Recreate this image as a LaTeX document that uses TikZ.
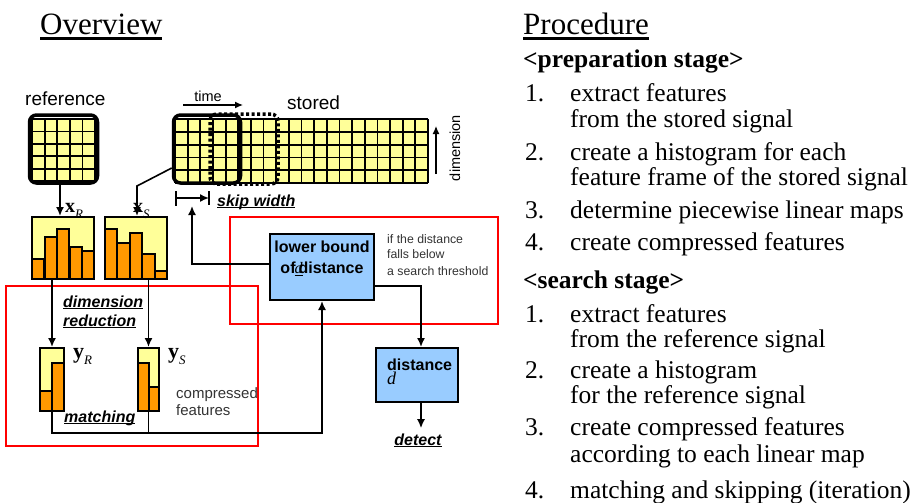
\documentclass[tikz,border=0pt]{standalone}
\usepackage{fontspec}
\setmainfont{Liberation Serif}
\setsansfont{Liberation Sans}
\usetikzlibrary{arrows.meta,positioning,calc}

\definecolor{cellyellow}{HTML}{FFFF99}
\definecolor{barorange}{HTML}{FF9900}
\definecolor{boxblue}{HTML}{99CCFF}
\definecolor{framered}{HTML}{FF0000}
\definecolor{notegray}{HTML}{333333}

% underline with a heavier rule
\newcommand{\thickul}[1]{\setbox0\hbox{#1}\rlap{\rule[-0.15em]{\wd0}{0.075em}}\box0}
% bold vector with italic index
\newcommand{\featvec}[2]{\textbf{#1}\raisebox{-0.3em}{\fontsize{13}{13}\selectfont\itshape #2}}

\begin{document}
\begin{tikzpicture}[x=1pt,y=-1pt,
  gridline/.style={line width=1.8pt},
  win/.style={draw, line width=3.5pt, rounded corners=7pt, inner sep=0pt},
  histbox/.style={draw, fill=cellyellow, line width=2pt, inner sep=0pt},
  bar/.style={draw, fill=barorange, line width=2pt},
  bluebox/.style={draw, fill=boxblue, line width=2pt, inner sep=0pt},
  link/.style={line width=1.6pt},
  flow/.style={link, -{Latex[length=9pt,width=8pt]}},
  redframe/.style={draw=framered, line width=1.8pt},
  title/.style={inner sep=0pt, anchor=base west, font=\fontsize{31}{36}\selectfont},
  stagehead/.style={inner sep=0pt, anchor=base west, font=\bfseries\fontsize{25.5}{30}\selectfont},
  procnum/.style={inner sep=0pt, anchor=base west, font=\fontsize{25.5}{30}\selectfont},
  proctext/.style={procnum},
  sanslabel/.style={inner sep=0pt, anchor=base west, font=\sffamily\fontsize{19}{23}\selectfont},
  smalllabel/.style={inner sep=0pt, font=\sffamily\fontsize{14.5}{17}\selectfont},
  tag/.style={inner sep=0pt, anchor=base west, font=\sffamily\bfseries\itshape\fontsize{16}{19}\selectfont},
  vecl/.style={inner sep=0pt, anchor=base west, font=\fontsize{20}{24}\selectfont},
  note/.style={inner sep=0pt, anchor=base west, text=notegray, font=\sffamily\fontsize{12.3}{15}\selectfont},
  cfnote/.style={note, font=\sffamily\fontsize{15}{18}\selectfont},
  boxtext/.style={inner sep=0pt, font=\sffamily\bfseries\fontsize{16}{21}\selectfont}]

\useasboundingbox (0,0) rectangle (916,503);

% titles
\node[title] (ovtitle) at (40,35) {\thickul{Overview}};
\node[title] (prtitle) at (523,35) {\thickul{Procedure}};

% procedure list
\node[stagehead] (prepstage) at (523,68) {<preparation stage>};
\node[procnum] (p1) at (525,102) {1.};
\node[proctext] (p1a) at (570,102) {extract features};
\node[proctext] (p1b) at (570,128) {from the stored signal};
\node[procnum] (p2) at (525,160) {2.};
\node[proctext] (p2a) at (570,160) {create a histogram for each};
\node[proctext] (p2b) at (570,185) {feature frame of the stored signal};
\node[procnum] (p3) at (525,218) {3.};
\node[proctext] (p3a) at (570,218) {determine piecewise linear maps};
\node[procnum] (p4) at (525,250) {4.};
\node[proctext] (p4a) at (570,250) {create compressed features};
\node[stagehead] (srchstage) at (523,288) {<search stage>};
\node[procnum] (s1) at (525,322) {1.};
\node[proctext] (s1a) at (570,322) {extract features};
\node[proctext] (s1b) at (570,347) {from the reference signal};
\node[procnum] (s2) at (525,378) {2.};
\node[proctext] (s2a) at (570,378) {create a histogram};
\node[proctext] (s2b) at (570,403) {for the reference signal};
\node[procnum] (s3) at (525,435) {3.};
\node[proctext] (s3a) at (570,435) {create compressed features};
\node[proctext] (s3b) at (570,462) {according to each linear map};
\node[procnum] (s4) at (525,498) {4.};
\node[proctext] (s4a) at (570,498) {matching and skipping (iteration)};

% red frames
\draw[redframe] (6,286) rectangle (258,446);
\draw[redframe] (230,217) rectangle (498,324);

% reference signal grid
\fill[cellyellow] (32,119) rectangle (95,181);
\foreach \i in {0,...,5}
  \draw[gridline] ({32+\i*12.6},119) -- ({32+\i*12.6},181);
\foreach \j in {0,...,5}
  \draw[gridline] (32,{119+\j*12.4}) -- (95,{119+\j*12.4});
\node[win, minimum width=68pt, minimum height=68pt] (refwin) at (63.5,149) {};
\node[sanslabel] (reflabel) at (25,105) {reference};

% stored signal grid
\fill[cellyellow] (175,119) rectangle (428,183);
\foreach \i in {0,...,20}
  \draw[gridline] ({175+\i*12.65},119) -- ({175+\i*12.65},183);
\foreach \j in {0,...,5}
  \draw[gridline] (175,{119+\j*12.8}) -- (428,{119+\j*12.8});
\node[win, dash pattern=on 3pt off 2.5pt, minimum width=68pt, minimum height=70pt] (skipwin) at (244,149) {};
\node[win, minimum width=67pt, minimum height=68pt] (storewin) at (207,149) {};
\node[sanslabel] (storelabel) at (287,110) {stored};

% time and dimension axes
\node[smalllabel, anchor=base] (timelabel) at (208,101) {time};
\coordinate (timeS) at (183,105);
\coordinate (timeE) at (243,105);
\draw[line width=1.3pt, -{Latex[length=8pt,width=7pt]}] (timeS) -- (timeE);
\node[smalllabel, rotate=90] (dimlabel) at (455,148) {dimension};
\coordinate (dimS) at (436,174);
\coordinate (dimE) at (436,126);
\draw[line width=1.3pt, -{Latex[length=8pt,width=7pt]}] (dimS) -- (dimE);

% skip width
\coordinate (skipL) at (175,198);
\coordinate (skipR) at (209,198);
\coordinate (skipmid) at (192,206);
\draw[link, {Bar[width=15pt]}-{Latex[length=9pt,width=8pt]}] (skipL) -- (skipR);
\draw[link] ([yshift=7pt]skipR) -- ([yshift=-7pt]skipR);
\node[tag] (skiplabel) at (217,206) {\thickul{skip width}};

% histograms
\node[histbox, minimum width=62pt, minimum height=62pt] (histR) at (63,248) {};
\foreach \xa/\top in {32/259, 44.5/237, 57/229, 69.5/247, 82/251}
  \draw[bar] (\xa,279) rectangle ({\xa+12.4},\top);
\node[histbox, minimum width=62.5pt, minimum height=62pt] (histS) at (135.75,248) {};
\foreach \xa/\top in {104.5/229, 117/243, 129.5/233, 142/254, 154.5/271}
  \draw[bar] (\xa,279) rectangle ({\xa+12.5},\top);

\coordinate (refout) at (60,183);
\coordinate (sbend) at (137,186);
\draw[flow] (refout) -- (refout |- histR.north);
\draw[flow] ([yshift=-19pt]storewin.west) -- (sbend) -- (sbend |- histS.north);
\node[vecl] (xR) at (65,212) {\featvec{x}{R}};
\node[vecl] (xS) at (133,212) {\featvec{x}{S}};

% compressed features
\node[histbox, minimum width=24pt, minimum height=63pt] (cfR) at (52,379.5) {};
\draw[bar] (40,411) rectangle (51.5,391);
\draw[bar] (51.5,411) rectangle (64,363);
\node[histbox, minimum width=21pt, minimum height=63pt] (cfS) at (148.5,379.5) {};
\draw[bar] (138,411) rectangle (149,363);
\draw[bar] (149,411) rectangle (159,387);
\node[vecl, font=\fontsize{22}{26}\selectfont] (yR) at (73,358) {\featvec{y}{R}};
\node[vecl, font=\fontsize{22}{26}\selectfont] (yS) at (168,358) {\featvec{y}{S}};
\node[cfnote] (cfnote1) at (176,398) {compressed};
\node[cfnote] (cfnote2) at (176,415) {features};

\draw[flow] (histR.south -| cfR.north) -- (cfR.north);
\draw[flow] (histS.south -| cfS.north) -- (cfS.north);
\node[tag] (dimred1) at (63,307) {\thickul{dimension}};
\node[tag] (dimred2) at (63,326) {\thickul{reduction}};

% lower bound and distance
\node[bluebox, minimum width=104pt, minimum height=66pt] (lbound) at (322,267) {};
\node[boxtext, align=center] (lbtext) at (322,258)
  {lower bound\\of\rlap{\kern-1pt\underline{\rmfamily\mdseries\itshape d}}\hspace{3pt}distance};
\node[note] (thr1) at (387,243) {if the distance};
\node[note] (thr2) at (387,258) {falls below};
\node[note] (thr3) at (387,275) {a search threshold};

\node[bluebox, minimum width=82pt, minimum height=54pt] (dist) at (417,375) {};
\node[boxtext, anchor=base west] (disttext) at (387,370) {distance};
\node[inner sep=0pt, anchor=base west, font=\itshape\fontsize{18}{18}\selectfont] (distvar) at (387,384) {d};
\node[tag, anchor=base, inner ysep=5pt] (detect) at (418,445) {\thickul{detect}};

% matching and feedback
\coordinate (matchline) at (0,433);
\draw[link] (cfS.south) -- (cfS.south |- matchline);
\draw[flow] (cfR.south) |- (lbound.south |- matchline) -- (lbound.south);
\node[tag] (matchlabel) at (64,422) {\thickul{matching}};
\draw[flow] ([yshift=3pt]lbound.west) -| (skipmid);
\draw[flow] ([yshift=-19pt]lbound.east) -| ([xshift=4pt]dist.north);
\draw[flow] ([xshift=4pt]dist.south) -- ([xshift=4pt]dist.south |- detect.north);
\end{tikzpicture}
\end{document}
